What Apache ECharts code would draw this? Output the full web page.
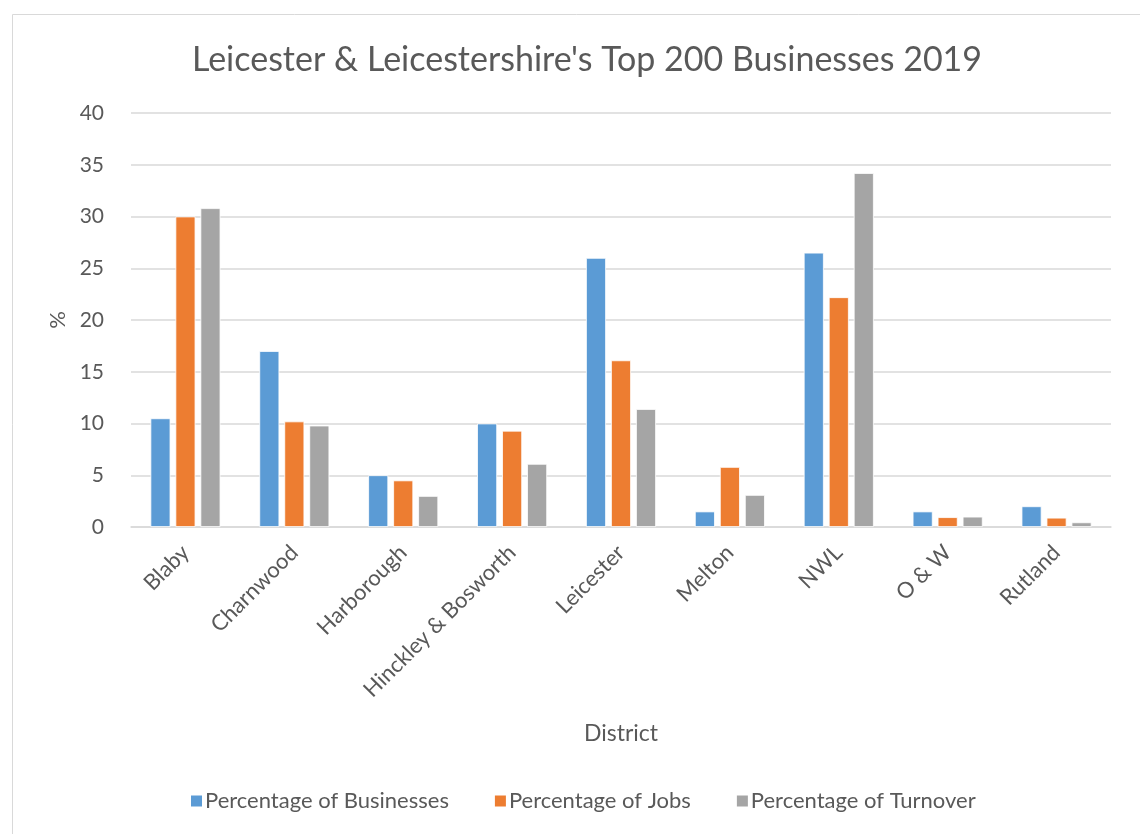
<!DOCTYPE html>
<html>
<head>
<meta charset="utf-8">
<script src="https://cdn.jsdelivr.net/npm/echarts@6/dist/echarts.min.js"></script>
<style>
  html, body { margin: 0; padding: 0; background: #fff; }
  #chart { width: 1140px; height: 834px; }
</style>
</head>
<body>
<div id="chart"></div>
<script>
// Districts and the share (%) each holds of the county's top 200 businesses
const districts = ['Blaby', 'Charnwood', 'Harborough', 'Hinckley & Bosworth', 'Leicester', 'Melton', 'NWL', 'O & W', 'Rutland'];
const pctBusinesses = [10.5, 17.0, 5.0, 10.0, 26.0, 1.5, 26.5, 1.5, 2.0];
const pctJobs       = [30.0, 10.2, 4.5, 9.3, 16.1, 5.8, 22.2, 0.95, 0.9];
const pctTurnover   = [30.8, 9.8, 3.0, 6.1, 11.4, 3.1, 34.2, 1.0, 0.45];
const yTicks = { min: 0, max: 40, interval: 5 };

const FONT = 'Lato';
const TEXT = '#595959';
const GRID = '#D9D9D9';

const chart = echarts.init(document.getElementById('chart'));

function barSeries(name, data, color) {
  return {
    name, type: 'bar', data,
    barWidth: 20, barGap: '25%',
    itemStyle: { color, borderColor: '#fff', borderWidth: 0.8 },
    emphasis: { disabled: true }
  };
}

chart.setOption({
  animation: false,
  textStyle: { fontFamily: FONT, color: TEXT },
  graphic: [{
    type: 'rect', silent: true,
    shape: { x: 12.5, y: 14.5, width: 1160, height: 860 },
    style: { fill: 'none', stroke: GRID, lineWidth: 1 }
  }],
  title: {
    text: "Leicester & Leicestershire's Top 200 Businesses 2019",
    left: 582, top: 38, textAlign: 'center',
    textStyle: { fontFamily: FONT, fontWeight: 'normal', fontSize: 34, color: TEXT }
  },
  legend: {
    bottom: 17, left: 184,
    itemWidth: 13, itemHeight: 13, itemGap: 44,
    icon: 'rect',
    textStyle: { fontFamily: FONT, fontSize: 22, color: TEXT, padding: [0, 0, 0, -3] },
    data: ['Percentage of Businesses', 'Percentage of Jobs', 'Percentage of Turnover']
  },
  grid: { left: 131, right: 29, top: 113, bottom: 307, containLabel: false },
  xAxis: {
    type: 'category', data: districts,
    name: 'District', nameLocation: 'middle', nameGap: 195,
    nameTextStyle: { fontFamily: FONT, fontSize: 23, color: TEXT },
    axisLine: { lineStyle: { color: GRID, width: 1.5 } },
    axisTick: { show: false },
    axisLabel: { rotate: 45, margin: 22, fontFamily: FONT, fontSize: 22, color: TEXT, interval: 0 }
  },
  yAxis: {
    type: 'value', min: yTicks.min, max: yTicks.max, interval: yTicks.interval,
    name: '%', nameLocation: 'middle', nameGap: 60, nameRotate: 90,
    nameTextStyle: { fontFamily: FONT, fontSize: 22, color: TEXT },
    axisLine: { show: false }, axisTick: { show: false },
    axisLabel: { margin: 27, fontFamily: FONT, fontSize: 21, color: TEXT },
    splitLine: { lineStyle: { color: GRID, width: 1.5 } }
  },
  series: [
    barSeries('Percentage of Businesses', pctBusinesses, '#5B9BD5'),
    barSeries('Percentage of Jobs', pctJobs, '#ED7D31'),
    barSeries('Percentage of Turnover', pctTurnover, '#A5A5A5')
  ]
});
</script>
</body>
</html>
